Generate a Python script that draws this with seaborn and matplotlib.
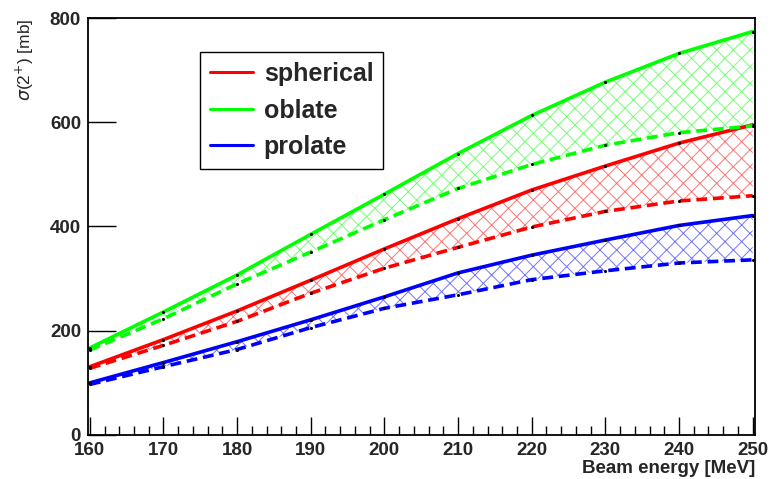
import matplotlib
matplotlib.use("Agg")
import matplotlib.pyplot as plt
import seaborn as sns
import pandas as pd
from matplotlib.ticker import MultipleLocator
from matplotlib.lines import Line2D

energy = [160, 170, 180, 190, 200, 210, 220, 230, 240, 250]
spherical_upper = [131, 183, 238, 297, 357, 415, 470, 516, 560, 595]
spherical_lower = [128, 172, 218, 272, 320, 360, 399, 429, 449, 459]
oblate_upper = [167, 236, 307, 385, 462, 540, 613, 677, 732, 774]
oblate_lower = [163, 223, 290, 351, 413, 473, 519, 556, 580, 593]
prolate_upper = [100, 139, 179, 221, 265, 311, 345, 374, 402, 421]
prolate_lower = [97, 131, 164, 206, 243, 269, 298, 315, 330, 336]

series = [
    ("spherical", "#ff0000", spherical_upper, spherical_lower),
    ("oblate", "#00ff00", oblate_upper, oblate_lower),
    ("prolate", "#0000ff", prolate_upper, prolate_lower),
]

sns.set_theme(style="ticks")
plt.rcParams['font.family'] = ['Liberation Sans', 'DejaVu Sans']
plt.rcParams['hatch.linewidth'] = 0.7

fig = plt.figure(figsize=(7.71, 4.79), dpi=100)
ax = fig.add_axes([0.1141, 0.0919, 0.8650, 0.8705])

for name, color, up, lo in series:
    df = pd.DataFrame({"E": energy, "upper": up, "lower": lo})
    ax.fill_between(df["E"], df["lower"], df["upper"], facecolor="none",
                    edgecolor=color, hatch="xx", linewidth=0, alpha=0.55)
    sns.lineplot(data=df, x="E", y="upper", color=color, linewidth=2.6, ax=ax)
    sns.lineplot(data=df, x="E", y="lower", color=color, linewidth=2.6,
                 linestyle=(0, (3, 1.6)), ax=ax)
    ax.plot(df["E"], df["upper"], ls="none", marker="o", ms=1.2, color="black")
    ax.plot(df["E"], df["lower"], ls="none", marker="o", ms=1.2, color="black")

ax.set_xlim(159.75, 250.3)
ax.set_ylim(0, 800)
ax.xaxis.set_major_locator(MultipleLocator(10))
ax.xaxis.set_minor_locator(MultipleLocator(2))
ax.yaxis.set_major_locator(MultipleLocator(200))
ax.tick_params(axis="x", which="major", direction="in", length=13, width=1,
               labelsize=13.5, pad=5, top=False, color="black")
ax.tick_params(axis="x", which="minor", direction="in", length=6.5, width=1,
               top=False, color="black")
ax.tick_params(axis="y", which="major", direction="in", length=20, width=1,
               labelsize=13.5, pad=5, right=False, color="black")
for lab in ax.get_xticklabels() + ax.get_yticklabels():
    lab.set_fontweight("bold")
for sp in ax.spines.values():
    sp.set_visible(True)
    sp.set_linewidth(1.3)
    sp.set_color("black")

ax.set_xlabel("Beam energy [MeV]", fontsize=13.5, fontweight="bold",
              ha="right", va="center")
ax.xaxis.set_label_coords(1.0, -0.0815)
ax.set_ylabel(r"$\sigma$(2$^{+}$) [mb]", fontsize=12.5, ha="right")
ax.yaxis.set_label_coords(-0.078, 1.0)

handles = [Line2D([], [], color=c, linewidth=2.2) for _, c, _, _ in series]
labels = [n for n, _, _, _ in series]
leg = ax.legend(handles, labels, loc="upper left", bbox_to_anchor=(0.168, 0.918),
                frameon=True, fancybox=False, framealpha=1, edgecolor="black",
                prop={"weight": "bold", "size": 18}, handlelength=1.7,
                handletextpad=0.45, labelspacing=0.5, borderpad=0.4,
                borderaxespad=0)
leg.get_frame().set_linewidth(1.0)

fig.savefig("out.png", dpi=100)
